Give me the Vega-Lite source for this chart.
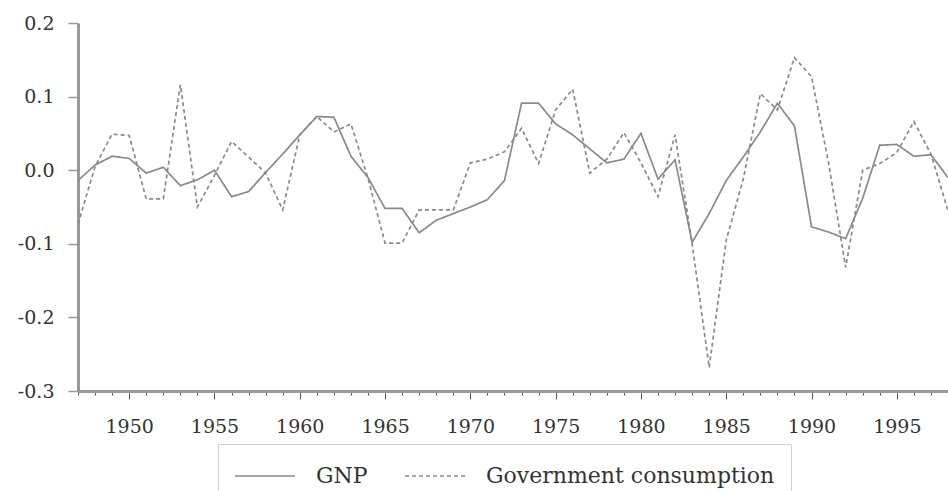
{
  "$schema": "https://vega.github.io/schema/vega-lite/v6.json",
  "autosize": {"type": "none"},
  "padding": {"left": 78, "top": 23, "right": 0, "bottom": 100},
  "width": 870,
  "height": 368,
  "background": "white",
  "config": {
    "view": {"stroke": null},
    "font": "DejaVu Serif"
  },
  "data": {
    "values": [
      {"year": 1947, "GNP": -0.014, "Government consumption": -0.073},
      {"year": 1948, "GNP": 0.007, "Government consumption": 0.005},
      {"year": 1949, "GNP": 0.019, "Government consumption": 0.049},
      {"year": 1950, "GNP": 0.016, "Government consumption": 0.047},
      {"year": 1951, "GNP": -0.004, "Government consumption": -0.039},
      {"year": 1952, "GNP": 0.004, "Government consumption": -0.039},
      {"year": 1953, "GNP": -0.021, "Government consumption": 0.116},
      {"year": 1954, "GNP": -0.013, "Government consumption": -0.050},
      {"year": 1955, "GNP": 0.0, "Government consumption": -0.007},
      {"year": 1956, "GNP": -0.036, "Government consumption": 0.039},
      {"year": 1957, "GNP": -0.029, "Government consumption": 0.018},
      {"year": 1958, "GNP": -0.003, "Government consumption": -0.004},
      {"year": 1959, "GNP": 0.022, "Government consumption": -0.054},
      {"year": 1960, "GNP": 0.048, "Government consumption": 0.048},
      {"year": 1961, "GNP": 0.073, "Government consumption": 0.073},
      {"year": 1962, "GNP": 0.072, "Government consumption": 0.052},
      {"year": 1963, "GNP": 0.019, "Government consumption": 0.063},
      {"year": 1964, "GNP": -0.010, "Government consumption": -0.011},
      {"year": 1965, "GNP": -0.052, "Government consumption": -0.099},
      {"year": 1966, "GNP": -0.052, "Government consumption": -0.099},
      {"year": 1967, "GNP": -0.085, "Government consumption": -0.054},
      {"year": 1968, "GNP": -0.068, "Government consumption": -0.054},
      {"year": 1969, "GNP": -0.059, "Government consumption": -0.054},
      {"year": 1970, "GNP": -0.050, "Government consumption": 0.010},
      {"year": 1971, "GNP": -0.040, "Government consumption": 0.015},
      {"year": 1972, "GNP": -0.014, "Government consumption": 0.025},
      {"year": 1973, "GNP": 0.091, "Government consumption": 0.057},
      {"year": 1974, "GNP": 0.091, "Government consumption": 0.009},
      {"year": 1975, "GNP": 0.063, "Government consumption": 0.082},
      {"year": 1976, "GNP": 0.048, "Government consumption": 0.110},
      {"year": 1977, "GNP": 0.029, "Government consumption": -0.004},
      {"year": 1978, "GNP": 0.010, "Government consumption": 0.015},
      {"year": 1979, "GNP": 0.015, "Government consumption": 0.051},
      {"year": 1980, "GNP": 0.050, "Government consumption": 0.010},
      {"year": 1981, "GNP": -0.012, "Government consumption": -0.036},
      {"year": 1982, "GNP": 0.014, "Government consumption": 0.048},
      {"year": 1983, "GNP": -0.098, "Government consumption": -0.100},
      {"year": 1984, "GNP": -0.059, "Government consumption": -0.268},
      {"year": 1985, "GNP": -0.014, "Government consumption": -0.095},
      {"year": 1986, "GNP": 0.018, "Government consumption": -0.012},
      {"year": 1987, "GNP": 0.052, "Government consumption": 0.104},
      {"year": 1988, "GNP": 0.091, "Government consumption": 0.082},
      {"year": 1989, "GNP": 0.060, "Government consumption": 0.153},
      {"year": 1990, "GNP": -0.077, "Government consumption": 0.127},
      {"year": 1991, "GNP": -0.084, "Government consumption": 0.010},
      {"year": 1992, "GNP": -0.093, "Government consumption": -0.132},
      {"year": 1993, "GNP": -0.038, "Government consumption": 0.0},
      {"year": 1994, "GNP": 0.034, "Government consumption": 0.009},
      {"year": 1995, "GNP": 0.035, "Government consumption": 0.024},
      {"year": 1996, "GNP": 0.019, "Government consumption": 0.066},
      {"year": 1997, "GNP": 0.021, "Government consumption": 0.022},
      {"year": 1998, "GNP": -0.010, "Government consumption": -0.055}
    ]
  },
  "transform": [
    {"fold": ["GNP", "Government consumption"], "as": ["series", "value"]}
  ],
  "mark": {"type": "line", "color": "#8a8a8a", "strokeWidth": 1.7, "clip": true},
  "encoding": {
    "x": {
      "field": "year",
      "type": "quantitative",
      "scale": {"domain": [1947, 1998], "nice": false, "zero": false},
      "axis": {
        "title": null,
        "values": [1947,1948,1949,1950,1951,1952,1953,1954,1955,1956,1957,1958,1959,1960,1961,1962,1963,1964,1965,1966,1967,1968,1969,1970,1971,1972,1973,1974,1975,1976,1977,1978,1979,1980,1981,1982,1983,1984,1985,1986,1987,1988,1989,1990,1991,1992,1993,1994,1995,1996,1997,1998],
        "labelExpr": "datum.value % 5 === 0 ? toString(datum.value) : ''",
        "tickSize": {"condition": {"test": "datum.value % 5 === 0", "value": 8}, "value": 4},
        "tickColor": "#555",
        "tickWidth": 1,
        "domainColor": "#9a9a9a",
        "domainWidth": 3,
        "labelFont": "DejaVu Serif",
        "labelFontSize": 19,
        "labelColor": "#333",
        "labelPadding": 18,
        "labelOverlap": false,
        "labelFlush": false,
        "grid": false
      }
    },
    "y": {
      "field": "value",
      "type": "quantitative",
      "scale": {"domain": [-0.3, 0.2], "nice": false, "zero": false},
      "axis": {
        "title": null,
        "values": [-0.3, -0.2, -0.1, 0.0, 0.1, 0.2],
        "labelExpr": "(datum.value < -0.0001 ? '-' : '') + format(abs(datum.value), '.1f')",
        "tickSize": 10,
        "tickColor": "#9a9a9a",
        "tickWidth": 1.5,
        "domainColor": "#9a9a9a",
        "domainWidth": 3,
        "labelFont": "DejaVu Serif",
        "labelFontSize": 19,
        "labelColor": "#333",
        "labelPadding": 14,
        "grid": false
      }
    },
    "strokeDash": {
      "field": "series",
      "type": "nominal",
      "sort": ["GNP", "Government consumption"],
      "scale": {"domain": ["GNP", "Government consumption"], "range": [[1, 0], [4, 3]]},
      "legend": {
        "title": null,
        "orient": "none",
        "legendX": 140,
        "legendY": 421,
        "direction": "horizontal",
        "symbolType": "M-1,0H3",
        "symbolSize": 900,
        "symbolStrokeColor": "#8a8a8a",
        "symbolStrokeWidth": 1.5,
        "labelFont": "DejaVu Serif",
        "labelFontSize": 22,
        "labelColor": "#333",
        "labelOffset": 50,
        "columnPadding": 34,
        "padding": 16,
        "strokeColor": "#cfcfcf",
        "fillColor": "white",
        "labelLimit": 400
      }
    }
  }
}
